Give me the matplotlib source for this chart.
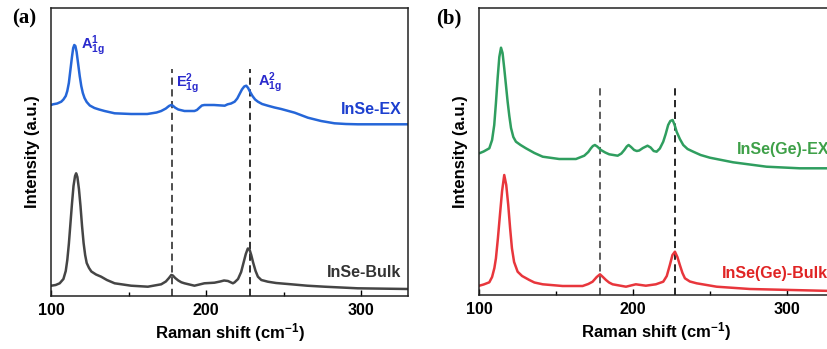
import matplotlib
matplotlib.use("Agg")
import matplotlib.pyplot as plt
from matplotlib.ticker import MultipleLocator

plt.rcParams['font.family'] = ['Liberation Sans', 'DejaVu Sans']
plt.rcParams['font.weight'] = 'bold'
plt.rcParams['mathtext.fontset'] = 'custom'
plt.rcParams['mathtext.rm'] = 'Liberation Sans:bold'
plt.rcParams['mathtext.bf'] = 'Liberation Sans:bold'
plt.rcParams['mathtext.it'] = 'Liberation Sans:bold'

# ---------------- data ----------------
# Panel (a) InSe-EX (blue)
ex_a_x = [100, 101.3, 104, 106.6, 108, 109.5, 110.5, 111.5, 112.5, 113.5, 114.3, 115.0, 115.7,
          116.5, 117.5, 118.5, 119.5, 120.5, 121.6, 123, 125, 128, 131, 134.5, 141, 151.6,
          162, 168, 171, 174, 176, 177.4, 178.5, 180, 182, 186, 192.4, 194, 195.6, 197.2,
          198.8, 205, 211.9, 213.8, 216, 218.3, 220, 221.5, 223, 224.5, 225.8, 227, 228.3,
          229.8, 231.5, 233.3, 236, 239.7, 244, 248.3, 257, 265.5, 274, 282.6, 290, 297.6, 330]
ex_a_y = [191, 191.7, 192.5, 194.3, 196.5, 200, 205, 213, 226, 239, 248, 251, 250,
          244, 232, 220, 210, 203, 198, 194, 190.5, 188, 186.5, 185, 182.7, 182,
          182, 183.5, 185, 187.5, 190, 191, 190.3, 188.3, 186.5, 185, 185, 186, 188.3, 190.5,
          191, 191, 190.3, 191.7, 192.5, 194.3, 197.5, 202, 206.5, 209.5, 210.3, 208, 204,
          200, 196.5, 194.3, 192, 190.3, 188.5, 187, 183.3, 178.3, 175, 172.7, 172, 171.7, 171.7]

# Panel (a) InSe-Bulk (gray)
bulk_a_x = [100.2, 103, 105.6, 108, 109.5, 110.5, 111.5, 112.5, 113.5, 114.5, 115.5, 116.2,
            117, 118, 119, 120, 121, 122, 123, 124.5, 126, 129, 132.3, 136, 141, 151.6,
            162.4, 171, 174, 176, 177.5, 178.5, 180, 182, 184, 186, 192.4, 198.8, 205.3,
            209, 211.5, 214, 217.2, 218.3, 220.5, 222.5, 224, 225.5, 226.8, 227.8, 229,
            230.3, 231.8, 233.3, 235.5, 239.7, 245, 254.8, 265, 276.2, 297.6, 330]
bulk_a_y = [10.3, 11, 12.7, 17, 25, 36, 52, 72, 92, 110, 120, 122.7,
            119, 107, 90, 70, 53, 41, 33, 28, 24.5, 21.5, 19.3, 16, 12.7, 10.3,
            9.3, 11.7, 14.5, 18, 21, 20.5, 18, 15.5, 13.7, 12.7, 10.3, 12.7, 13.3,
            14.5, 15.5, 15, 12.7, 13.7, 17, 24, 33, 42, 47.5, 47, 41,
            33, 25, 19.3, 16, 14.3, 13, 11.7, 10.3, 9.3, 7.7, 7]

# Panel (b) InSe(Ge)-EX (green)
ex_b_x = [100.2, 103, 106.7, 108.5, 109.9, 111, 112.1, 113.2, 114.3, 115.3, 116.4, 117.5,
          118.6, 119.7, 120.8, 122.3, 124, 127, 130.5, 136, 141.4, 152.1, 163, 168.4, 171,
          172.7, 174, 175.3, 176.8, 179.2, 182, 184.6, 190.1, 192.5, 194.4, 196, 197.2,
          198.8, 200.8, 202.5, 204.1, 206.5, 209.5, 211.5, 213.5, 215.4, 217.5, 219.7,
          221.3, 222.9, 224.3, 225.8, 227.1, 228.4, 230.5, 232.7, 235.5, 239.2, 244, 250,
          265.1, 286.8, 308.4, 330]
ex_b_y = [141.7, 143.5, 146.7, 155, 170, 192, 216.7, 238, 247.3, 242, 226.7, 210,
          193.3, 179, 167, 158, 153.3, 150, 146.7, 142, 138.3, 136, 136, 139.3, 143,
          146.7, 149, 150, 148.5, 145, 142.5, 140.7, 139.3, 141.5, 145, 148.5, 150,
          148, 145, 144, 144.5, 147, 149.3, 147.5, 144, 143.3, 146.5, 153.3,
          161, 170, 174, 175, 170, 163.3, 156, 150, 146, 143.3, 140, 137.3,
          132.7, 128.3, 126.7, 126.7]

# Panel (b) InSe(Ge)-Bulk (red)
bulk_b_x = [100.2, 103, 106.7, 108.5, 110, 111, 112.3, 113.6, 115, 116.4, 117.7, 119,
            120.2, 121.4, 122.8, 125.1, 128, 132.7, 136, 141.4, 154.3, 167.3, 171, 173.8,
            176.5, 178.6, 180.5, 182.5, 184.5, 186.8, 195.5, 201.9, 208.4, 214.9, 219.7,
            222, 224, 225.7, 227.3, 228.9, 230.5, 232.2, 233.8, 237, 241.4, 254.4, 276, 330]
bulk_b_y = [9.3, 10.5, 12.7, 18, 27, 36.7, 57, 80, 104, 120, 110, 90,
            67, 46.7, 33, 23.3, 19, 15, 12.5, 10.7, 9, 9, 11, 13.3,
            18, 20.7, 18, 15, 12.5, 10.7, 8.3, 10.7, 9.3, 10.7, 13.3,
            19, 30, 40, 43.3, 38, 30, 22, 16.7, 13.5, 11.7, 8.3, 6, 4]

peaks_a = [178, 228]
peaks_b = [178.6, 227.5]
xticks = [100, 200, 300]
series_labels = ["InSe-EX", "InSe-Bulk", "InSe(Ge)-EX", "InSe(Ge)-Bulk"]
mode_labels = [r"$\mathrm{A}^{1}_{1g}$", r"$\mathrm{E}^{2}_{1g}$", r"$\mathrm{A}^{2}_{1g}$"]

# ---------------- figure ----------------
W, H = 828, 349
fig = plt.figure(figsize=(W / 100, H / 100), dpi=100)
ax_a = fig.add_axes([51 / W, 53 / H, 357 / W, 288 / H])
ax_b = fig.add_axes([479 / W, 54 / H, 354 / W, 287 / H])

c_blue, c_gray, c_green, c_red = "#2566d8", "#454545", "#2f9e5f", "#e8363c"

def style(ax, ylim):
    ax.set_xlim(100, 330)
    ax.set_ylim(0, ylim)
    ax.set_xticks(xticks)
    ax.xaxis.set_minor_locator(MultipleLocator(50))
    ax.set_yticks([])
    ax.tick_params(axis='x', which='major', direction='in', length=4, width=1,
                   labelsize=11.5, pad=5)
    ax.tick_params(axis='x', which='minor', direction='in', length=3, width=1)
    for lbl in ax.get_xticklabels():
        lbl.set_fontweight('bold')
    for s in ax.spines.values():
        s.set_linewidth(1.1)
        s.set_color("#222222")
    ax.set_xlabel(r"Raman shift (cm$^{\mathbf{-1}}$)", fontsize=12, fontweight='bold', labelpad=2)
    ax.set_ylabel("Intensity (a.u.)", fontsize=12, fontweight='bold', labelpad=8)

line_kw = dict(lw=1.8, solid_joinstyle='round', solid_capstyle='round')

# Panel (a)
style(ax_a, 288)
ax_a.vlines(peaks_a, 0, [227, 227], colors=["#404040", "#202020"], linestyles=(0, (4, 2.5)), lw=1.3)
ax_a.plot(ex_a_x, ex_a_y, color=c_blue, **line_kw)
ax_a.plot(bulk_a_x, bulk_a_y, color=c_gray, **line_kw)
ax_a.text(325.7, 187, series_labels[0], color="#1c3fcf", fontsize=11.5, fontweight='bold',
          ha='right', va='center')
ax_a.text(325.7, 23.3, series_labels[1], color="#333333", fontsize=11.5, fontweight='bold',
          ha='right', va='center')
ann_col = "#2a2acd"
ax_a.text(119.3, 246.7, mode_labels[0], color=ann_col, fontsize=10.5, ha='left', va='baseline')
ax_a.text(180.8, 208.7, mode_labels[1], color=ann_col, fontsize=10.5, ha='left', va='baseline')
ax_a.text(233.3, 210, mode_labels[2], color=ann_col, fontsize=10.5, ha='left', va='baseline')

# Panel (b)
style(ax_b, 287)
ax_b.vlines(peaks_b, 0, [211, 211], colors=["#505050", "#151515"], linestyles=(0, (4, 2.5)), lw=1.3)
ax_b.plot(ex_b_x, ex_b_y, color=c_green, **line_kw)
ax_b.plot(bulk_b_x, bulk_b_y, color=c_red, **line_kw)
ax_b.text(267.3, 145.7, series_labels[2], color="#3ea048", fontsize=11.5, fontweight='bold',
          ha='left', va='center', clip_on=False)
ax_b.text(258, 21.7, series_labels[3], color="#e02424", fontsize=11.5, fontweight='bold',
          ha='left', va='center', clip_on=False)

# Panel letters
fig.text(12 / W, 1 - 18 / H, "(a)", fontsize=15, fontweight='bold', family='Liberation Serif',
         ha='left', va='center')
fig.text(436 / W, 1 - 18 / H, "(b)", fontsize=15, fontweight='bold', family='Liberation Serif',
         ha='left', va='center')

fig.savefig("out.png", dpi=100)
